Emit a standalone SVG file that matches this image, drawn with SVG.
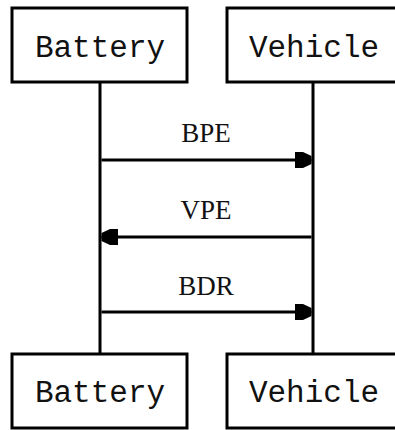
<svg xmlns="http://www.w3.org/2000/svg" width="395" height="430" viewBox="0 0 395 430">
<style>
.box{fill:#fff;stroke:#000;stroke-width:3}
.life{stroke:#000;stroke-width:3;fill:none}
.msg{stroke:#000;stroke-width:3;fill:none;marker-end:url(#ah)}
.nt{font-family:"Liberation Mono","Courier New",monospace;font-size:31px;fill:#111;text-anchor:middle}
.ml{font-family:"Liberation Serif","Times New Roman",serif;font-size:27px;fill:#111;text-anchor:middle}
</style>
<defs>
<marker id="ah" markerUnits="userSpaceOnUse" viewBox="0 0 17 16" refX="16.5" refY="8" markerWidth="17" markerHeight="16" orient="auto">
<path d="M0,0 H8 L16.5,4 V12 L8,16 H0 Z" fill="#000"/>
</marker>
</defs>
<rect width="395" height="430" fill="#fff"/>
<g id="lifelines">
<line class="life" x1="100" y1="82" x2="100" y2="353"/>
<line class="life" x1="313" y1="82" x2="313" y2="353"/>
</g>
<g id="battery-top"><rect class="box" x="12" y="8" width="175" height="74"/><text class="nt" x="100" y="57">Battery</text></g>
<g id="vehicle-top"><rect class="box" x="227" y="8" width="175" height="74"/><text class="nt" x="314" y="57">Vehicle</text></g>
<g id="battery-bottom"><rect class="box" x="12" y="354" width="175" height="74"/><text class="nt" x="100" y="402">Battery</text></g>
<g id="vehicle-bottom"><rect class="box" x="227" y="354" width="175" height="74"/><text class="nt" x="314" y="402">Vehicle</text></g>
<g id="connectors">
<line class="msg" x1="101.5" y1="160" x2="311.5" y2="160"/>
<text class="ml" x="206" y="142">BPE</text>
<line class="msg" x1="311.5" y1="237" x2="101.5" y2="237"/>
<text class="ml" x="206" y="219">VPE</text>
<line class="msg" x1="101.5" y1="312" x2="311.5" y2="312"/>
<text class="ml" x="206" y="295">BDR</text>
</g>
</svg>
